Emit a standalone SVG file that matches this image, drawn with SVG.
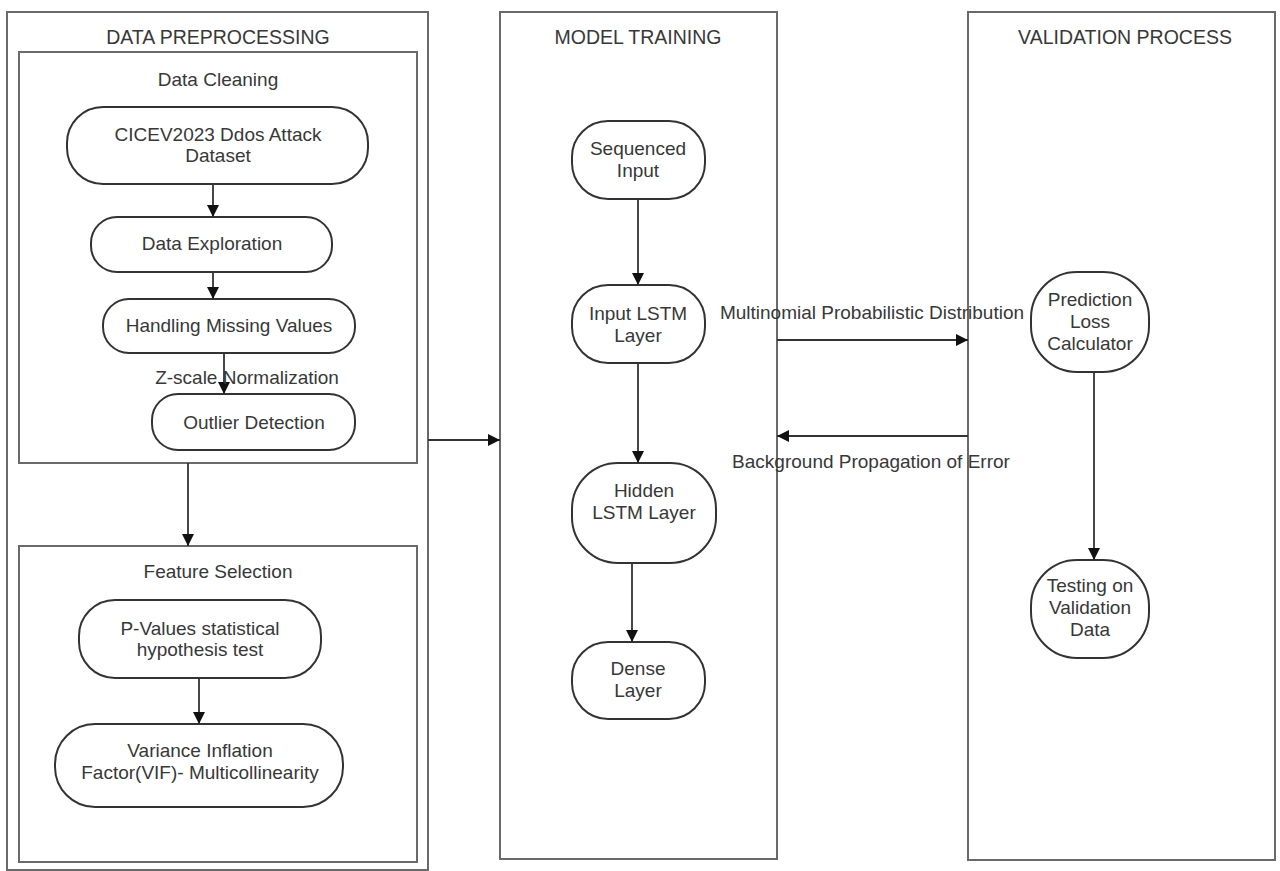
<svg xmlns="http://www.w3.org/2000/svg" width="1280" height="871" viewBox="0 0 1280 871">
<defs>
<style>
.frame{fill:none;stroke:#6a6a6a;stroke-width:2}
.node{fill:#fff;stroke:#333;stroke-width:2}
.t{font-family:"Liberation Sans",Arial,sans-serif;font-size:19px;fill:#383838;text-anchor:middle}
.h{font-family:"Liberation Sans",Arial,sans-serif;font-size:19.5px;fill:#383838;text-anchor:middle}
.c{fill:none;stroke:#333;stroke-width:1.8}
</style>
<marker id="ah" viewBox="0 0 10 10" refX="10" refY="5" markerWidth="12" markerHeight="12" orient="auto" markerUnits="userSpaceOnUse">
<path d="M0,0 L10,5 L0,10 z" fill="#111"/>
</marker>
</defs>
<rect width="1280" height="871" fill="#fff"/>

<g id="pre">
<rect class="frame" x="7" y="12" width="421" height="858"/>
<text class="h" x="218" y="44">DATA PREPROCESSING</text>
</g>
<g id="cleaning">
<rect class="frame" x="19" y="52" width="398" height="411"/>
<text class="t" x="218" y="86">Data Cleaning</text>
</g>
<g id="feature">
<rect class="frame" x="19" y="546" width="398" height="316"/>
<text class="t" x="218" y="578">Feature Selection</text>
</g>
<g id="training">
<rect class="frame" x="500" y="12" width="277" height="847"/>
<text class="h" x="638" y="44">MODEL TRAINING</text>
</g>
<g id="validation">
<rect class="frame" x="968" y="12" width="307" height="848"/>
<text class="h" x="1125" y="44">VALIDATION PROCESS</text>
</g>

<g id="n-cicev">
<rect class="node" x="67" y="107" width="301" height="77" rx="36"/>
<text class="t" x="218" y="141">CICEV2023 Ddos Attack</text>
<text class="t" x="218" y="162">Dataset</text>
</g>
<g id="n-explore">
<rect class="node" x="91" y="217" width="241" height="55" rx="26"/>
<text class="t" x="212" y="250">Data Exploration</text>
</g>
<g id="n-missing">
<rect class="node" x="103" y="299" width="252" height="54" rx="26"/>
<text class="t" x="229" y="332">Handling Missing Values</text>
</g>
<g id="n-outlier">
<rect class="node" x="152" y="394" width="203" height="56" rx="26"/>
<text class="t" x="254" y="429">Outlier Detection</text>
</g>
<g id="n-pvalues">
<rect class="node" x="79" y="600" width="242" height="78" rx="36"/>
<text class="t" x="200" y="635">P-Values statistical</text>
<text class="t" x="200" y="656">hypothesis test</text>
</g>
<g id="n-vif">
<rect class="node" x="55" y="724" width="288" height="83" rx="40"/>
<text class="t" x="200" y="757">Variance Inflation</text>
<text class="t" x="200" y="779">Factor(VIF)- Multicollinearity</text>
</g>
<g id="n-seq">
<rect class="node" x="572" y="121" width="133" height="78" rx="36"/>
<text class="t" x="638" y="155">Sequenced</text>
<text class="t" x="638" y="177">Input</text>
</g>
<g id="n-inlstm">
<rect class="node" x="572" y="285" width="133" height="78" rx="36"/>
<text class="t" x="638" y="320">Input LSTM</text>
<text class="t" x="638" y="342">Layer</text>
</g>
<g id="n-hidden">
<rect class="node" x="572" y="463" width="144" height="100" rx="46"/>
<text class="t" x="644" y="497">Hidden</text>
<text class="t" x="644" y="519">LSTM Layer</text>
</g>
<g id="n-dense">
<rect class="node" x="572" y="642" width="133" height="77" rx="36"/>
<text class="t" x="638" y="675">Dense</text>
<text class="t" x="638" y="697">Layer</text>
</g>
<g id="n-pred">
<rect class="node" x="1031" y="272" width="118" height="100" rx="46"/>
<text class="t" x="1090" y="306">Prediction</text>
<text class="t" x="1090" y="328">Loss</text>
<text class="t" x="1090" y="350">Calculator</text>
</g>
<g id="n-test">
<rect class="node" x="1031" y="560" width="118" height="98" rx="46"/>
<text class="t" x="1090" y="592">Testing on</text>
<text class="t" x="1090" y="614">Validation</text>
<text class="t" x="1090" y="636">Data</text>
</g>

<g id="connectors">
<line class="c" x1="213" y1="184" x2="213" y2="217" marker-end="url(#ah)"/>
<line class="c" x1="213" y1="272" x2="213" y2="299" marker-end="url(#ah)"/>
<line class="c" x1="224" y1="353" x2="224" y2="394" marker-end="url(#ah)"/>
<text class="t" x="247" y="384">Z-scale Normalization</text>
<line class="c" x1="188" y1="463" x2="188" y2="546" marker-end="url(#ah)"/>
<line class="c" x1="199" y1="678" x2="199" y2="724" marker-end="url(#ah)"/>
<line class="c" x1="428" y1="440" x2="500" y2="440" marker-end="url(#ah)"/>
<line class="c" x1="638" y1="199" x2="638" y2="285" marker-end="url(#ah)"/>
<line class="c" x1="638" y1="363" x2="638" y2="463" marker-end="url(#ah)"/>
<line class="c" x1="632" y1="563" x2="632" y2="642" marker-end="url(#ah)"/>
<line class="c" x1="777" y1="340" x2="968" y2="340" marker-end="url(#ah)"/>
<text class="t" x="872" y="319">Multinomial Probabilistic Distribution</text>
<line class="c" x1="968" y1="436" x2="777" y2="436" marker-end="url(#ah)"/>
<text class="t" x="871" y="468">Background Propagation of Error</text>
<line class="c" x1="1094" y1="372" x2="1094" y2="560" marker-end="url(#ah)"/>
</g>
</svg>
